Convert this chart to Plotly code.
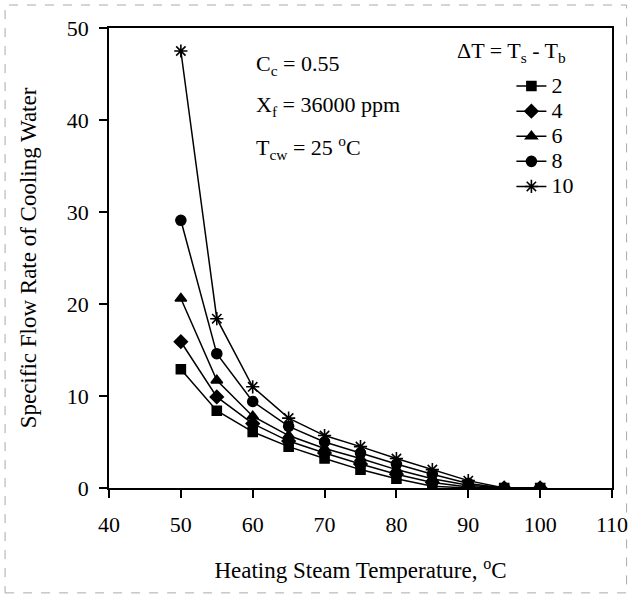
import plotly.graph_objects as go

temps = [50, 55, 60, 65, 70, 75, 80, 85, 90, 95, 100]
dt_labels = ["2", "4", "6", "8", "10"]
flow_dt2 = [12.9, 8.4, 6.1, 4.5, 3.2, 2.0, 1.0, 0.2, 0.0, 0.0, 0.0]
flow_dt4 = [15.9, 9.9, 7.0, 5.1, 3.8, 2.6, 1.5, 0.6, 0.1, 0.0, 0.0]
flow_dt6 = [20.6, 11.7, 7.8, 5.7, 4.3, 3.2, 2.0, 1.0, 0.3, 0.0, 0.0]
flow_dt8 = [29.1, 14.6, 9.4, 6.7, 5.0, 3.8, 2.6, 1.5, 0.5, 0.0, 0.0]
flow_dt10 = [47.5, 18.4, 11.0, 7.6, 5.7, 4.5, 3.2, 2.0, 0.8, 0.0, 0.0]

series = [flow_dt2, flow_dt4, flow_dt6, flow_dt8, flow_dt10]
symbols = ["square", "diamond", "triangle-up", "circle", "asterisk-open"]
sizes = [9, 10, 10, 10, 11]

FONT = "Liberation Serif, Times New Roman, serif"

fig = go.Figure()
for lab, vals, sym, sz in zip(dt_labels, series, symbols, sizes):
    fig.add_trace(go.Scatter(
        x=temps, y=vals,
        name='<span style="font-size:22px">%s</span>' % lab,
        mode="lines+markers",
        line=dict(color="black", width=1.5),
        marker=dict(symbol=sym, size=sz, color="black",
                    line=dict(color="black", width=1.6)),
    ))

ann_font = dict(size=22)
fig.add_annotation(x=60.15, y=46.0, xref="x", yref="y", showarrow=False,
                   xanchor="left", yanchor="middle",
                   text="C<sub>c</sub> = 0.55", font=ann_font)
fig.add_annotation(x=60.15, y=41.5, xref="x", yref="y", showarrow=False,
                   xanchor="left", yanchor="middle",
                   text="X<sub>f</sub> = 36000 ppm", font=ann_font)
fig.add_annotation(x=60.15, y=37.0, xref="x", yref="y", showarrow=False,
                   xanchor="left", yanchor="middle",
                   text="T<sub>cw</sub> = 25 <sup>o</sup>C", font=ann_font)
fig.add_annotation(x=88.1, y=47.4, xref="x", yref="y", showarrow=False,
                   xanchor="left", yanchor="middle",
                   text="\u0394T = T<sub>s</sub> - T<sub>b</sub>", font=ann_font)

fig.add_shape(type="rect", xref="paper", yref="paper",
              x0=-0.2066, x1=1.029, y0=-0.228, y1=1.05,
              line=dict(color="#aaaaaa", width=1, dash="dash"), layer="below")

fig.update_layout(
    width=640, height=596,
    margin=dict(l=109, r=18, t=28, b=108),
    paper_bgcolor="white", plot_bgcolor="white",
    font=dict(family=FONT, size=22, color="black"),
    showlegend=True,
    legend=dict(x=0.80, y=0.912, xanchor="left", yanchor="top",
                bgcolor="rgba(0,0,0,0)", font=dict(size=17),
                tracegroupgap=0),
    xaxis=dict(range=[40, 110], tickvals=[40, 50, 60, 70, 80, 90, 100, 110],
               showgrid=False, zeroline=False, showline=True, linecolor="black",
               linewidth=1.5, mirror=True, ticks="outside", ticklen=8,
               tickwidth=1.5, tickcolor="black", ticklabelstandoff=8,
               tickfont=dict(size=22),
               title=dict(text="Heating Steam Temperature, <sup>o</sup>C",
                          font=dict(size=23), standoff=26)),
    yaxis=dict(range=[0, 50], tickvals=[0, 10, 20, 30, 40, 50],
               showgrid=False, zeroline=False, showline=True, linecolor="black",
               linewidth=1.5, mirror=True, ticks="outside", ticklen=8,
               tickwidth=1.5, tickcolor="black", ticklabelstandoff=6,
               tickfont=dict(size=22),
               title=dict(text="Specific Flow Rate of Cooling Water",
                          font=dict(size=23), standoff=24)),
)

fig.write_html("out.html")
